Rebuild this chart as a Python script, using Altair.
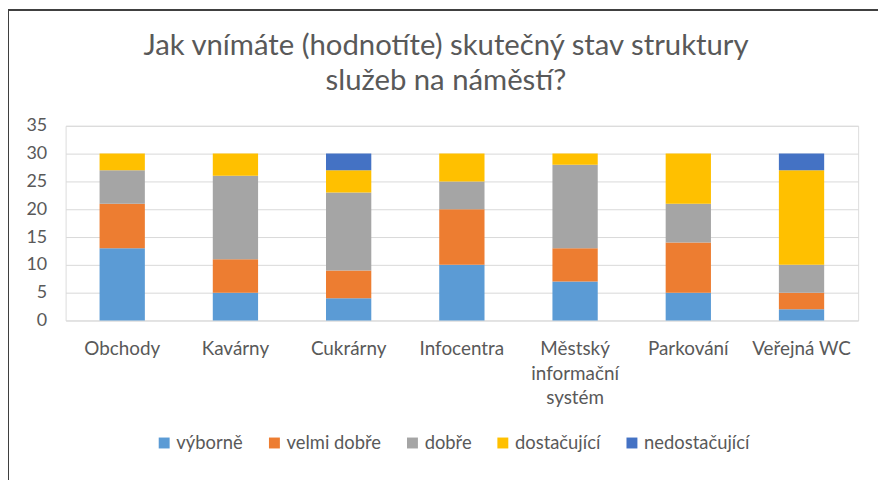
import altair as alt
import pandas as pd

categories = ["Obchody", "Kavárny", "Cukrárny", "Infocentra",
              "Městský informační systém", "Parkování", "Veřejná WC"]
series = ["výborně", "velmi dobře", "dobře", "dostačující", "nedostačující"]
vyborne = [13, 5, 4, 10, 7, 5, 2]
velmi_dobre = [8, 6, 5, 10, 6, 9, 3]
dobre = [6, 15, 14, 5, 15, 7, 5]
dostacujici = [3, 4, 4, 5, 2, 9, 17]
nedostacujici = [0, 0, 3, 0, 0, 0, 3]
colors = ["#5B9BD5", "#ED7D31", "#A5A5A5", "#FFC000", "#4472C4"]
title_lines = ["Jak vnímáte (hodnotíte) skutečný stav struktury", "služeb na náměstí?"]

values = [vyborne, velmi_dobre, dobre, dostacujici, nedostacujici]
rows = []
for si, (s, vals) in enumerate(zip(series, values)):
    for c, v in zip(categories, vals):
        rows.append({"kategorie": c, "hodnoceni": s, "pocet": v, "idx": si})
df = pd.DataFrame(rows)

FONT = "Lato"
TXT = "#595959"

bars = alt.Chart(df).mark_bar().encode(
    x=alt.X("kategorie:N", sort=categories,
            scale=alt.Scale(paddingInner=0.6, paddingOuter=0.3),
            axis=alt.Axis(title=None, labelAngle=0, domain=False, ticks=False,
                          labelFontSize=19, labelColor=TXT, labelFont=FONT,
                          labelPadding=19, labelLineHeight=25,
                          labelExpr="datum.label == 'Městský informační systém' ? ['Městský', 'informační', 'systém'] : datum.label")),
    y=alt.Y("pocet:Q", stack="zero",
            scale=alt.Scale(domain=[0, 35], nice=False),
            axis=alt.Axis(title=None, values=[0, 5, 10, 15, 20, 25, 30, 35],
                          domain=False, ticks=False, grid=True,
                          gridColor="#D9D9D9", gridWidth=1,
                          labelFontSize=18, labelColor=TXT, labelFont=FONT,
                          labelPadding=19)),
    color=alt.Color("hodnoceni:N", sort=series,
                    scale=alt.Scale(domain=series, range=colors),
                    legend=alt.Legend(title=None, orient="none", direction="horizontal",
                                      legendX=90, legendY=310,
                                      symbolType="square", symbolSize=121,
                                      symbolStrokeWidth=0,
                                      labelFontSize=18.5, labelColor=TXT, labelFont=FONT,
                                      columnPadding=22, labelOffset=3)),
    order=alt.Order("idx:Q", sort="ascending"),
)

title1 = alt.Chart(pd.DataFrame({"t": [title_lines[0]]})).mark_text(
    font=FONT, fontSize=29.5, color=TXT, align="center", baseline="middle"
).encode(text="t:N", x=alt.value(383), y=alt.value(-80))
title2 = alt.Chart(pd.DataFrame({"t": [title_lines[1]]})).mark_text(
    font=FONT, fontSize=29.5, color=TXT, align="center", baseline="middle"
).encode(text="t:N", x=alt.value(383), y=alt.value(-45))

border_left = alt.Chart(df).mark_rule(color="#404040", strokeWidth=1.5).encode(
    x=alt.value(-58), y=alt.value(-117), y2=alt.value(360))
border_top = alt.Chart(df).mark_rule(color="#404040", strokeWidth=1.5).encode(
    x=alt.value(-58), x2=alt.value(830), y=alt.value(-116.5))

chart = alt.layer(bars, title1, title2, border_left, border_top).properties(
    width=798, height=196,
    autosize=alt.AutoSizeParams(type="none"),
    padding={"left": 58, "top": 117, "right": 20, "bottom": 159},
).configure_view(stroke=None).configure(background="white")

chart.save("out.html", embed_options={"renderer": "svg", "actions": False})
